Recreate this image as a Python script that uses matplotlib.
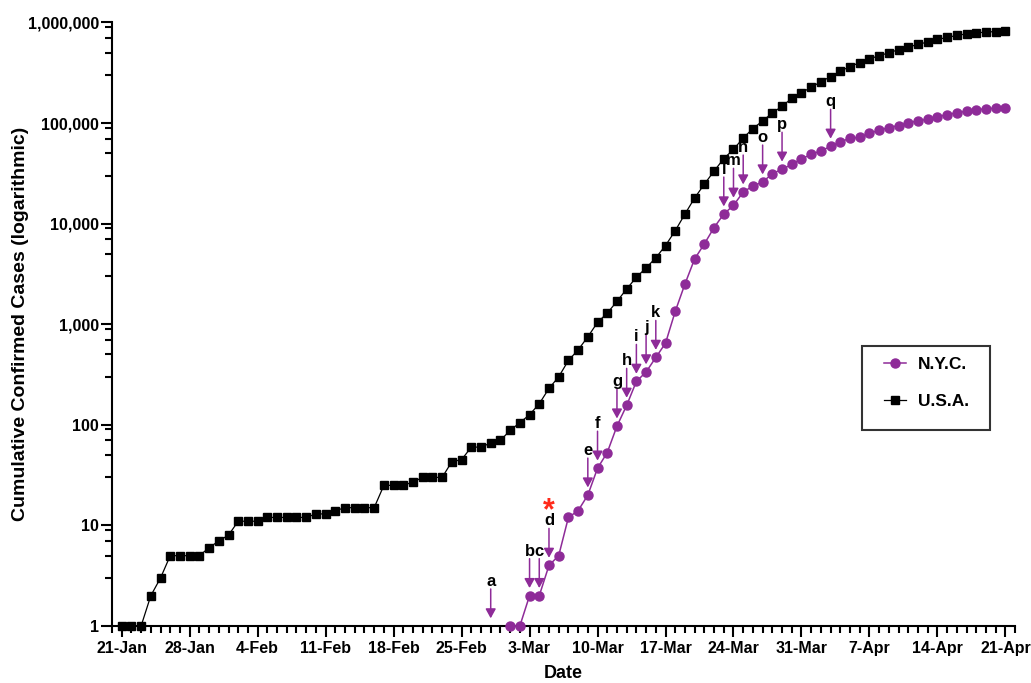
import matplotlib
matplotlib.use('Agg')
import matplotlib.pyplot as plt
import matplotlib.ticker as mticker
import matplotlib.dates as mdates
from matplotlib.patches import Rectangle
import pandas as pd

plt.rcParams['font.family'] = ['Liberation Sans', 'DejaVu Sans']
plt.rcParams['font.weight'] = 'bold'

purple = '#8E2B98'

# U.S.A. cumulative confirmed cases, one value per day from 21-Jan-2020
usa_start = '2020-01-21'
usa_cases = [1, 1, 1, 2, 3, 5, 5, 5, 5, 6, 7, 8, 11, 11, 11,
             12, 12, 12, 12, 12, 13, 13, 14, 15, 15, 15, 15,
             25, 25, 25, 27, 30, 30, 30, 43, 45, 60, 60, 66, 70, 88, 105,
             126, 162, 230, 300, 436, 556, 749, 1043, 1290, 1687, 2240,
             2930, 3630, 4570, 6060, 8500, 12450, 18000, 24700, 33300,
             44300, 54700, 71100, 88100, 105000, 126000, 147000, 176000,
             201000, 226000, 258000, 289000, 329000, 364000, 399000,
             433000, 469000, 498000, 538000, 571000, 604000, 641000,
             678000, 710000, 743000, 771000, 789000, 801000, 813000, 826000]

# N.Y.C. cumulative confirmed cases, one value per day from 1-Mar-2020
nyc_start = '2020-03-01'
nyc_cases = [1, 1, 2, 2, 4, 5, 12, 14, 20, 37, 53, 97, 156, 270, 335,
             467, 648, 1340, 2510, 4460, 6290, 9140, 12450, 15200, 20600,
             23700, 25900, 31400, 34700, 38800, 44000, 48900, 52800,
             58700, 65000, 70600, 72200, 79100, 84800, 90100, 94400,
             100500, 105200, 109200, 115300, 121500, 126400, 131200,
             135600, 138700, 140600, 141900]

# lettered arrows pointing at the N.Y.C. curve
note_labels = ['a', 'b', 'c', 'd', 'e', 'f', 'g', 'h', 'i', 'j', 'k',
               'l', 'm', 'n', 'o', 'p', 'q']
note_dates = ['2020-02-28', '2020-03-03', '2020-03-04', '2020-03-05',
              '2020-03-09', '2020-03-10', '2020-03-12', '2020-03-13',
              '2020-03-14', '2020-03-15', '2020-03-16', '2020-03-23',
              '2020-03-24', '2020-03-25', '2020-03-27', '2020-03-29',
              '2020-04-03']
star_date = '2020-03-05'

y_ticks = [1, 10, 100, 1000, 10000, 100000, 1000000]

usa_dates = pd.date_range(usa_start, periods=len(usa_cases), freq='D')
nyc_dates = pd.date_range(nyc_start, periods=len(nyc_cases), freq='D')

fig = plt.figure(figsize=(10.31, 6.83), dpi=100)
ax = fig.add_axes([0.1086, 0.0835, 0.876, 0.8836])

ax.plot(nyc_dates, nyc_cases, color=purple, lw=1.1, marker='o', ms=6.5,
        label='N.Y.C.', clip_on=False, zorder=4)
ax.plot(usa_dates, usa_cases, color='black', lw=0.9, marker='s', ms=6,
        label='U.S.A.', clip_on=False, zorder=3)

ax.set_yscale('log')
ax.set_ylim(1, 1e6)
ax.set_xlim(pd.Timestamp('2020-01-20'), pd.Timestamp('2020-04-22'))

ax.yaxis.set_major_locator(mticker.FixedLocator(y_ticks))
ax.yaxis.set_minor_locator(mticker.LogLocator(base=10, subs=(3, 5, 7, 9), numticks=10))
ax.yaxis.set_major_formatter(mticker.FuncFormatter(lambda v, p: f'{int(round(v)):,}'))
ax.yaxis.set_minor_formatter(mticker.NullFormatter())

week_ticks = pd.date_range('2020-01-21', '2020-04-21', freq='7D')
ax.xaxis.set_major_locator(mticker.FixedLocator(mdates.date2num(week_ticks)))
ax.xaxis.set_minor_locator(mdates.DayLocator())
ax.xaxis.set_major_formatter(mticker.FuncFormatter(
    lambda v, p: f"{mdates.num2date(v).day}-{mdates.num2date(v).strftime('%b')}"))
ax.xaxis.set_minor_formatter(mticker.NullFormatter())

ax.tick_params(which='major', length=8, width=1.5, labelsize=11.5, pad=3)
ax.tick_params(axis='y', which='major', pad=1.5)
ax.tick_params(which='minor', length=5, width=1.5)
for s in ['top', 'right']:
    ax.spines[s].set_visible(False)
for s in ['left', 'bottom']:
    ax.spines[s].set_linewidth(1.5)

# arrows + letters
nyc_lookup = dict(zip(nyc_dates, nyc_cases))
for lab, d in zip(note_labels, note_dates):
    d = pd.Timestamp(d)
    v = nyc_lookup.get(d, 1)
    ax.annotate(lab, xy=(d, v), xytext=(0, 40), textcoords='offset pixels',
                ha='center', va='baseline', fontsize=12, fontweight='bold',
                annotation_clip=False, zorder=5,
                arrowprops=dict(arrowstyle='-|>,head_length=0.4,head_width=0.22',
                                color=purple, lw=1.1, mutation_scale=14,
                                shrinkA=0, shrinkB=5.5, patchA=None,
                                relpos=(0.5, 0)))

sd = pd.Timestamp(star_date)
ax.annotate('*', xy=(sd, nyc_lookup[sd]), xytext=(0, 46), textcoords='offset pixels',
            ha='center', va='baseline', fontsize=22, fontweight='bold',
            color='#FF2A1A', annotation_clip=False)

# legend: entries without frame + a plain box drawn behind them
ax.add_patch(Rectangle((0.830, 0.3248), 0.142, 0.1397, transform=ax.transAxes,
                       facecolor='white', edgecolor='#333333', lw=1.5,
                       clip_on=False, zorder=6))
leg = ax.legend(loc='upper left', bbox_to_anchor=(0.855, 0.4457), frameon=False,
                prop=dict(weight='bold', size=12.5), handlelength=1.26,
                handletextpad=0.69, labelspacing=1.26, borderpad=0,
                borderaxespad=0, numpoints=1)
leg.set_zorder(7)

fig.text(21 / 1031, 0.5256, 'Cumulative Confirmed Cases (logarithmic)', rotation=90,
         ha='center', va='center', fontsize=14, fontweight='bold')
fig.text(0.5461, 0.0132, 'Date', ha='center', va='center', fontsize=13, fontweight='bold')

fig.savefig('out.png', dpi=100)
